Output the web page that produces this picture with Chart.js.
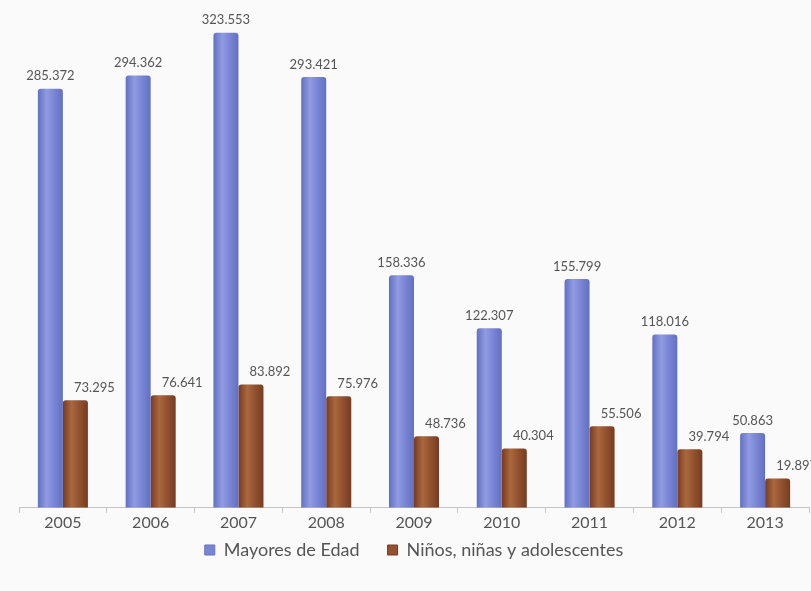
<!DOCTYPE html>
<html>
<head>
<meta charset="utf-8">
<script src="https://cdn.jsdelivr.net/npm/chart.js@4/dist/chart.umd.min.js"></script>
<style>
  html, body { margin: 0; padding: 0; background: #fafafa; }
  #wrap { width: 811px; height: 591px; position: relative; }
</style>
</head>
<body>
<div id="wrap"><canvas id="chart" width="811" height="591"></canvas></div>
<script>
// values
const years = ['2005', '2006', '2007', '2008', '2009', '2010', '2011', '2012', '2013'];
const mayores = [285372, 294362, 323553, 293421, 158336, 122307, 155799, 118016, 50863];
const ninos = [73295, 76641, 83892, 75976, 48736, 40304, 55506, 39794, 19897];

const seriesNames = ['Mayores de Edad', 'Niños, niñas y adolescentes'];
const FONT = 'Lato, "Open Sans", sans-serif';
const CAT_PCT = 0.57;

function fmt(v) {
  return String(v).replace(/\B(?=(\d{3})+(?!\d))/g, '.');
}

// shading for the cylinder look, per dataset: dark edge, highlight, base
const shades = [
  ['#6270c2', '#909be2', '#7a86d4'],
  ['#763c20', '#aa683f', '#92522f']
];

function cylinder(c) {
  const [dark, light, base] = shades[c.datasetIndex];
  const xs = c.chart.scales && c.chart.scales.x;
  if (c.dataIndex === undefined || !xs || !xs.width) return base;
  const bw = xs.width / years.length * CAT_PCT / 2;
  const center = xs.getPixelForValue(c.dataIndex) + (c.datasetIndex === 0 ? -bw / 2 : bw / 2);
  const g = c.chart.ctx.createLinearGradient(center - bw / 2, 0, center + bw / 2, 0);
  g.addColorStop(0, dark);
  g.addColorStop(0.35, light);
  g.addColorStop(0.65, base);
  g.addColorStop(1, dark);
  return g;
}

// value labels above the bars
const valueLabels = {
  id: 'valueLabels',
  afterDatasetsDraw(chart) {
    const ctx = chart.ctx;
    ctx.save();
    ctx.font = '13px ' + FONT;
    ctx.fillStyle = '#555';
    ctx.textAlign = 'center';
    ctx.textBaseline = 'bottom';
    chart.data.datasets.forEach((ds, i) => {
      const shift = i === 1 ? 19 : 0;
      chart.getDatasetMeta(i).data.forEach((bar, j) => {
        ctx.fillText(fmt(ds.data[j]), bar.x + shift, bar.y - 6);
      });
    });
    ctx.restore();
  }
};

// lift the legend closer to the axis labels
const legendLift = {
  id: 'legendLift',
  afterLayout(chart) {
    if (chart.legend) {
      chart.legend.top -= 19;
      chart.legend.bottom -= 19;
    }
  }
};

new Chart(document.getElementById('chart').getContext('2d'), {
  type: 'bar',
  data: {
    labels: years,
    datasets: [
      {
        label: seriesNames[0],
        data: mayores,
        backgroundColor: cylinder,
        borderRadius: { topLeft: 3, topRight: 3 },
        borderSkipped: 'bottom'
      },
      {
        label: seriesNames[1],
        data: ninos,
        backgroundColor: cylinder,
        borderRadius: { topLeft: 3, topRight: 3 },
        borderSkipped: 'bottom'
      }
    ]
  },
  options: {
    responsive: false,
    animation: false,
    layout: { padding: { left: 19, right: 2, top: 10, bottom: 3 } },
    datasets: { bar: { categoryPercentage: CAT_PCT, barPercentage: 1 } },
    scales: {
      x: {
        border: { color: '#c4c4c4' },
        grid: { display: true, drawOnChartArea: false, drawTicks: true, tickLength: 5, color: '#c4c4c4', offset: true },
        ticks: { color: '#555', font: { size: 16, family: FONT }, padding: 0 }
      },
      y: {
        display: false,
        min: 0,
        max: 339000
      }
    },
    plugins: {
      legend: {
        position: 'bottom',
        labels: {
          color: '#555',
          boxWidth: 10,
          boxHeight: 10,
          padding: 28,
          font: { size: 18, family: FONT },
          generateLabels(chart) {
            return seriesNames.map((name, i) => ({
              text: name,
              fillStyle: shades[i][2],
              strokeStyle: shades[i][0],
              lineWidth: 1,
              fontColor: '#555',
              datasetIndex: i
            }));
          }
        }
      },
      tooltip: { enabled: false }
    }
  },
  plugins: [valueLabels, legendLift]
});
</script>
</body>
</html>
